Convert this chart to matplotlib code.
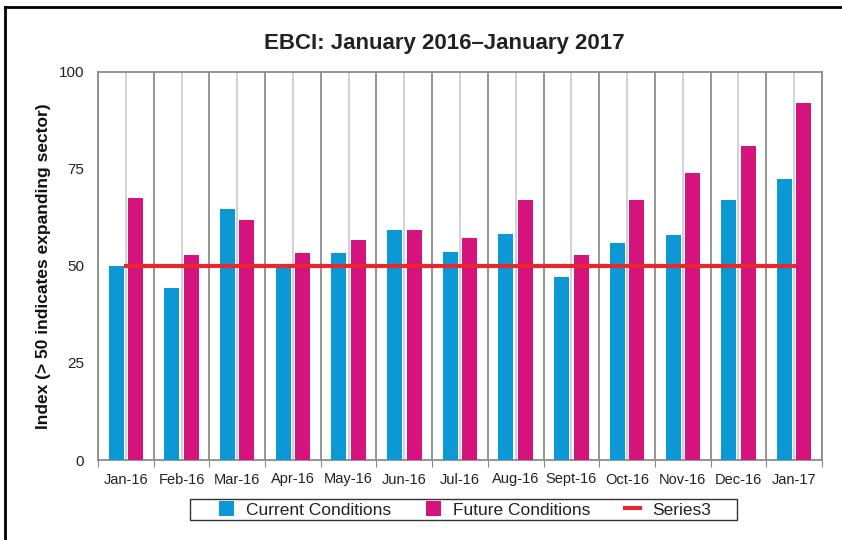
import matplotlib.pyplot as plt
from matplotlib.patches import Rectangle
from matplotlib.lines import Line2D
import numpy as np

plt.rcParams['font.family'] = ['Liberation Sans', 'DejaVu Sans']

months = ['Jan-16', 'Feb-16', 'Mar-16', 'Apr-16', 'May-16', 'Jun-16', 'Jul-16',
          'Aug-16', 'Sept-16', 'Oct-16', 'Nov-16', 'Dec-16', 'Jan-17']
current = [50.0, 44.3, 64.6, 50.0, 53.3, 59.2, 53.5, 58.2, 47.1, 55.8, 57.9, 66.9, 72.3]
future = [67.4, 52.7, 61.7, 53.3, 56.6, 59.2, 57.1, 66.9, 52.7, 66.9, 73.8, 80.8, 91.8]
series3 = [50] * 13

BLUE = '#0B98D4'
MAGENTA = '#D4147C'
RED = '#E8262B'

fig = plt.figure(figsize=(8.42, 5.40), dpi=100)
ax = fig.add_axes([98 / 842, 1 - 460 / 540, 724 / 842, 388.5 / 540])

x = np.arange(len(months))
b1 = ax.bar(x - 0.175, current, width=0.27, color=BLUE, zorder=3, label='Current Conditions')
b2 = ax.bar(x + 0.175, future, width=0.27, color=MAGENTA, zorder=3, label='Future Conditions')
l3, = ax.plot(x, series3, color=RED, lw=3, zorder=4, label='Series3')

ax.set_xlim(-0.5, len(months) - 0.5)
ax.set_ylim(0, 100)
ax.set_yticks([0, 25, 50, 75, 100])
ax.tick_params(axis='y', length=0, pad=10, labelsize=11, colors='#222222')

# category boundaries = major ticks, centres = minor ticks with labels
ax.set_xticks(np.arange(-0.5, len(months), 1.0))
ax.set_xticklabels([])
ax.set_xticks(x, minor=True)
ax.set_xticklabels(months, minor=True, fontsize=10.5, color='#222222')
ax.tick_params(axis='x', which='major', length=5, color='#888888', direction='out')
ax.tick_params(axis='x', which='minor', length=0, pad=9)
ax.grid(axis='x', which='major', color='#8c8c8c', lw=1.3, zorder=1)
ax.grid(axis='x', which='minor', color='#cfcfcf', lw=1.3, zorder=1)

for s in ax.spines.values():
    s.set_color('#8c8c8c')
    s.set_linewidth(1.3)

ax.set_ylabel('Index (> 50 indicates expanding sector)', fontsize=12.5,
              fontweight='bold', color='#111111')
ax.yaxis.set_label_coords(-47 / 724, 0.5)
fig.text(444 / 842, 1 - 43 / 540, 'EBCI: January 2016\u2013January 2017',
         ha='center', va='center', fontsize=16, fontweight='bold', color='#222222')

leg = fig.legend([b1, b2, l3], ['Current Conditions', 'Future Conditions', 'Series3'],
                 loc='center', bbox_to_anchor=(465 / 842, 1 - 509.5 / 540), ncol=3,
                 frameon=False, fontsize=12.5, handlelength=0.87, handleheight=0.87,
                 handletextpad=0.7, columnspacing=2.0)
for t in leg.get_texts():
    t.set_color('#222222')
fig.add_artist(Rectangle((190 / 842, 1 - 520 / 540), 547 / 842, 21 / 540,
                         transform=fig.transFigure, fill=False, ec='#333333', lw=1))

# outer frame (left and top)
fig.add_artist(Line2D([5 / 842, 5 / 842], [0, 1 - 7 / 540], transform=fig.transFigure,
                      color='black', lw=2))
fig.add_artist(Line2D([5 / 842, 1], [1 - 7 / 540, 1 - 7 / 540], transform=fig.transFigure,
                      color='black', lw=2))

fig.savefig('out.png', dpi=100)
